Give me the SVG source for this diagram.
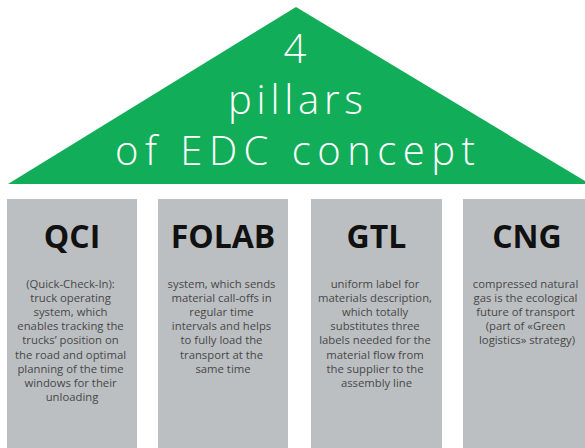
<svg xmlns="http://www.w3.org/2000/svg" width="585" height="448" viewBox="0 0 585 448">
<style>
.title{font-family:"Open Sans","Liberation Sans",sans-serif;font-weight:300;font-size:40px;fill:#ffffff;text-anchor:middle}
.pillar{fill:#bcbfc2}
.head{font-family:"Open Sans","Liberation Sans",sans-serif;font-weight:700;font-size:32px;fill:#111111;text-anchor:middle}
.body{font-family:"Open Sans","Liberation Sans",sans-serif;font-size:11.3px;fill:#474747;text-anchor:middle}
</style>
<rect width="585" height="448" fill="#ffffff"/>
<g id="roof">
<polygon points="296,7 8,184 590,184" fill="#12ad59"/>
<text class="title" x="295" y="63">4</text>
<text class="title" x="295.5" y="114" textLength="135" lengthAdjust="spacing">pillars</text>
<text class="title" x="295" y="165" textLength="360" lengthAdjust="spacing">of EDC concept</text>
</g>
<g id="qci">
<rect class="pillar" x="7" y="199" width="130" height="249"/>
<text class="head" x="72" y="248">QCI</text>
<text class="body" x="72" y="288">
<tspan x="72">(Quick-Check-In):</tspan>
<tspan x="72" dy="14.1">truck operating</tspan>
<tspan x="72" dy="14.1">system, which</tspan>
<tspan x="72" dy="14.1">enables tracking the</tspan>
<tspan x="72" dy="14.1">trucks’ position on</tspan>
<tspan x="72" dy="14.1">the road and optimal</tspan>
<tspan x="72" dy="14.1">planning of the time</tspan>
<tspan x="72" dy="14.1">windows for their</tspan>
<tspan x="72" dy="14.1">unloading</tspan>
</text>
</g>
<g id="folab">
<rect class="pillar" x="158" y="199" width="130" height="249"/>
<text class="head" x="223" y="248">FOLAB</text>
<text class="body" x="223" y="288">
<tspan x="223">system, which sends</tspan>
<tspan x="223" dy="14.1">material call-offs in</tspan>
<tspan x="223" dy="14.1">regular time</tspan>
<tspan x="223" dy="14.1">intervals and helps</tspan>
<tspan x="223" dy="14.1">to fully load the</tspan>
<tspan x="223" dy="14.1">transport at the</tspan>
<tspan x="223" dy="14.1">same time</tspan>
</text>
</g>
<g id="gtl">
<rect class="pillar" x="311" y="199" width="131" height="249"/>
<text class="head" x="376.5" y="248">GTL</text>
<text class="body" x="376.5" y="288">
<tspan x="376.5">uniform label for</tspan>
<tspan x="376.5" dy="14.1">materials description,</tspan>
<tspan x="376.5" dy="14.1">which totally</tspan>
<tspan x="376.5" dy="14.1">substitutes three</tspan>
<tspan x="376.5" dy="14.1">labels needed for the</tspan>
<tspan x="376.5" dy="14.1">material flow from</tspan>
<tspan x="376.5" dy="14.1">the supplier to the</tspan>
<tspan x="376.5" dy="14.1">assembly line</tspan>
</text>
</g>
<g id="cng">
<rect class="pillar" x="463" y="199" width="130" height="249"/>
<text class="head" x="527" y="248">CNG</text>
<text class="body" x="527" y="288">
<tspan x="527">compressed natural</tspan>
<tspan x="527" dy="14.1">gas is the ecological</tspan>
<tspan x="527" dy="14.1">future of transport</tspan>
<tspan x="527" dy="14.1">(part of «Green</tspan>
<tspan x="527" dy="14.1">logistics» strategy)</tspan>
</text>
</g>
<g id="connectors"></g>
</svg>
